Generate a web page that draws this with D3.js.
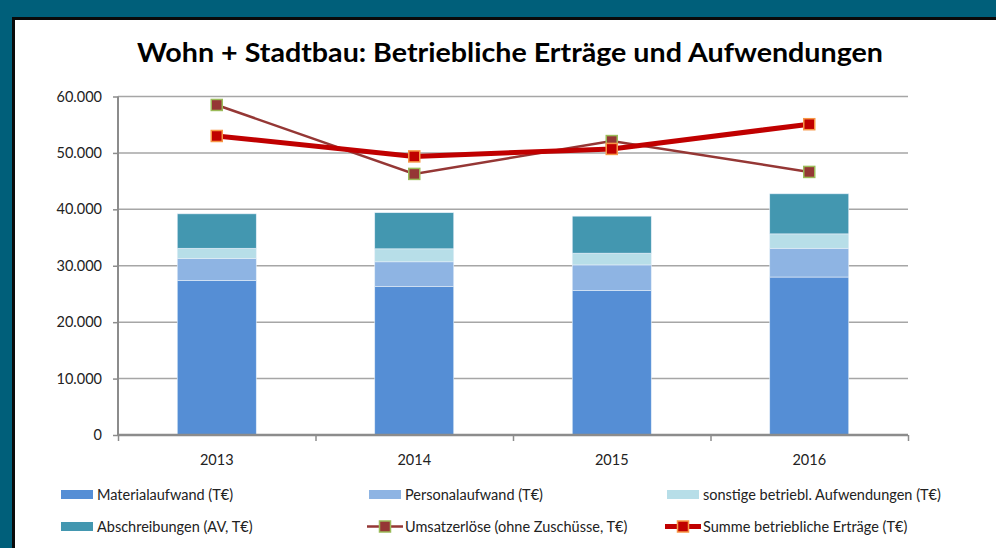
<!DOCTYPE html>
<html>
<head>
<meta charset="utf-8">
<script src="https://cdn.jsdelivr.net/npm/d3@7"></script>
<style>
  body { margin: 0; background: #fff; }
  svg { display: block; font-family: Lato, "Open Sans", sans-serif; }
</style>
</head>
<body>
<div id="chart"></div>
<script>
// data (T€)
const years = ['2013', '2014', '2015', '2016'];
const material = [27400, 26300, 25600, 28000];
const personal = [3900, 4400, 4550, 5100];
const sonstige = [1800, 2300, 2080, 2550];
const abschreibungen = [6100, 6400, 6560, 7100];
const umsatz = [58500, 46280, 52100, 46630];
const summe = [53000, 49380, 50710, 55090];
const yTicks = [0, 10000, 20000, 30000, 40000, 50000, 60000];

const stackNames = ['Materialaufwand (T€)', 'Personalaufwand (T€)', 'sonstige betriebl. Aufwendungen (T€)', 'Abschreibungen (AV, T€)'];
const stackColors = ['#558ed5', '#8eb4e3', '#b7dee8', '#4397b0'];

const W = 996, H = 548;
const margin = { left: 118, right: 88, top: 96.5, bottom: 113 };
const fs = 14.5;

const svg = d3.select('#chart').append('svg')
  .attr('width', W).attr('height', H);

// frame: teal band on top and left only
svg.append('rect').attr('x', 0).attr('y', 0).attr('width', W).attr('height', H).attr('fill', '#fff');
svg.append('rect').attr('x', 0).attr('y', 0).attr('width', W).attr('height', 17).attr('fill', '#005f7a');
svg.append('rect').attr('x', 0).attr('y', 0).attr('width', 12).attr('height', H).attr('fill', '#005f7a');
svg.append('rect').attr('x', 12).attr('y', 17).attr('width', W - 12).attr('height', 3).attr('fill', '#0a0a0a');
svg.append('rect').attr('x', 12).attr('y', 17).attr('width', 3).attr('height', H - 17).attr('fill', '#0a0a0a');

const title = svg.append('text')
  .attr('x', 510).attr('y', 62)
  .attr('text-anchor', 'middle')
  .attr('font-size', 26).attr('font-weight', 'bold')
  .attr('fill', '#000')
  .text('Wohn + Stadtbau: Betriebliche Erträge und Aufwendungen');
title.attr('textLength', 746).attr('lengthAdjust', 'spacingAndGlyphs');

const x = d3.scaleBand().domain(years).range([margin.left, W - margin.right]).paddingInner(0).paddingOuter(0);
const y = d3.scaleLinear().domain([0, 60000]).range([H - margin.bottom, margin.top]);

// grid
svg.append('g')
  .selectAll('line')
  .data(yTicks.filter(d => d > 0))
  .join('line')
  .attr('x1', margin.left).attr('x2', W - margin.right)
  .attr('y1', d => y(d)).attr('y2', d => y(d))
  .attr('stroke', '#a6a6a6').attr('stroke-width', 1.5);

// stacked bars
const rows = years.map((yr, i) => ({ year: yr, v: [material[i], personal[i], sonstige[i], abschreibungen[i]] }));
const barW = x.bandwidth() * 0.4;
rows.forEach(r => {
  let base = 0;
  r.v.forEach((val, k) => {
    svg.append('rect')
      .attr('x', x(r.year) + (x.bandwidth() - barW) / 2)
      .attr('y', y(base + val))
      .attr('width', barW)
      .attr('height', y(base) - y(base + val))
      .attr('fill', stackColors[k])
      .attr('stroke', '#e4eef8').attr('stroke-width', 0.6);
    base += val;
  });
});

// axes
const yAxis = svg.append('g')
  .attr('transform', `translate(${margin.left},0)`)
  .call(d3.axisLeft(y).tickValues(yTicks).tickSize(5).tickPadding(11)
    .tickFormat(d => d === 0 ? '0' : d3.format(',')(d).replace(/,/g, '.')));
yAxis.selectAll('line').attr('stroke', '#8c8c8c').attr('stroke-width', 1.5);
yAxis.select('.domain').attr('stroke', '#8c8c8c').attr('stroke-width', 2).attr('d', `M0,${y(60000)}V${y(0)}`);
yAxis.selectAll('text').attr('font-size', fs).attr('fill', '#222').attr('font-family', 'Lato, sans-serif');

const xb = d3.scaleLinear().domain([0, 4]).range([margin.left, W - margin.right]);
const xAxis = svg.append('g')
  .attr('transform', `translate(0,${y(0)})`)
  .call(d3.axisBottom(xb).ticks(4).tickSize(6).tickFormat(''));
xAxis.selectAll('line').attr('stroke', '#8c8c8c').attr('stroke-width', 1.5);
xAxis.select('.domain').attr('stroke', '#8c8c8c').attr('stroke-width', 2.5).attr('d', `M${margin.left},0H${W - margin.right}`);

svg.append('g')
  .selectAll('text')
  .data(years)
  .join('text')
  .attr('x', d => x(d) + x.bandwidth() / 2)
  .attr('y', y(0) + 30)
  .attr('text-anchor', 'middle')
  .attr('font-size', fs).attr('fill', '#222')
  .text(d => d);

// lines
const cx = d => x(d) + x.bandwidth() / 2;
const lineSeries = [
  { name: 'Umsatzerlöse (ohne Zuschüsse, T€)', values: umsatz, color: '#953735', width: 2.5, border: '#9bbb59' },
  { name: 'Summe betriebliche Erträge (T€)', values: summe, color: '#c00000', width: 5, border: '#f79646' }
];
lineSeries.forEach(s => {
  svg.append('path')
    .datum(s.values)
    .attr('fill', 'none')
    .attr('stroke', s.color)
    .attr('stroke-width', s.width)
    .attr('d', d3.line().x((d, i) => cx(years[i])).y(d => y(d)));
});
lineSeries.forEach(s => {
  svg.append('g').selectAll('rect')
    .data(s.values)
    .join('rect')
    .attr('x', (d, i) => cx(years[i]) - 5.5)
    .attr('y', d => y(d) - 5.5)
    .attr('width', 11).attr('height', 11)
    .attr('fill', s.color)
    .attr('stroke', s.border).attr('stroke-width', 1.5);
});

// legend
const legend = svg.append('g').attr('font-size', fs).attr('fill', '#222');
const colX = [61, 369, 667];
const rowY = [494.5, 526.5];
const items = [
  { type: 'bar', name: stackNames[0], color: stackColors[0] },
  { type: 'bar', name: stackNames[1], color: stackColors[1] },
  { type: 'bar', name: stackNames[2], color: stackColors[2] },
  { type: 'bar', name: stackNames[3], color: stackColors[3] },
  { type: 'line', s: lineSeries[0] },
  { type: 'line', s: lineSeries[1] }
];
items.forEach((it, i) => {
  const lx = colX[i % 3], ly = rowY[Math.floor(i / 3)];
  const g = legend.append('g');
  if (it.type === 'bar') {
    g.append('rect').attr('x', lx).attr('y', ly - 4.5).attr('width', 32).attr('height', 9).attr('fill', it.color);
    g.append('text').attr('x', lx + 36).attr('y', ly + 5).text(it.name);
  } else {
    const s = it.s;
    g.append('line').attr('x1', lx - 2).attr('x2', lx + 34).attr('y1', ly).attr('y2', ly)
      .attr('stroke', s.color).attr('stroke-width', s.width);
    g.append('rect').attr('x', lx + 16 - 5.5).attr('y', ly - 5.5).attr('width', 11).attr('height', 11)
      .attr('fill', s.color).attr('stroke', s.border).attr('stroke-width', 1.5);
    g.append('text').attr('x', lx + 36).attr('y', ly + 5).text(s.name);
  }
});
</script>
</body>
</html>
